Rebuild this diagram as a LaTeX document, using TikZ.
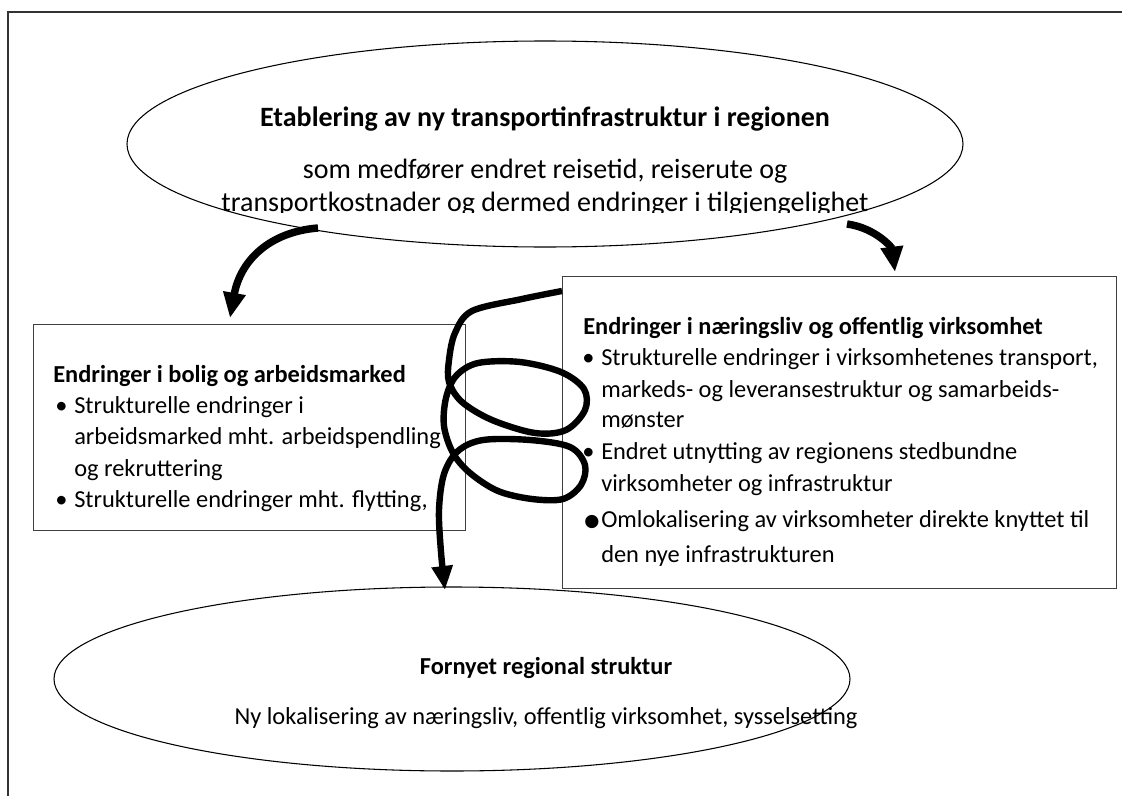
\documentclass[tikz,border=0pt]{standalone}
\usepackage{fontspec}
\setmainfont{Carlito}
\newfontfamily\dejavu{DejaVu Sans}
\usetikzlibrary{arrows.meta,shapes.geometric}
\begin{document}
\begin{tikzpicture}[x=0.75pt,y=-0.75pt,
  frame/.style={line width=1.6pt, draw=black!80},
  ell/.style={ellipse, draw, line width=0.8pt, inner sep=0pt},
  boxst/.style={rectangle, draw=black!75, line width=1pt, inner sep=0pt, anchor=north west},
  bigarrow/.style={line width=5.6pt, -{Triangle[length=19pt,width=16pt]}},
  spiral/.style={line width=4.8pt, line join=round, -{Triangle[length=18pt,width=15pt]}},
  btxt/.style={font=\fontsize{18.3}{22}\selectfont, inner sep=0pt, anchor=base west},
  etxt/.style={font=\fontsize{21}{24}\selectfont, inner sep=0pt, anchor=base},
  bul/.style={font=\fontsize{18.3}{22}\selectfont, inner sep=0pt, anchor=base west}
]
\useasboundingbox (0,0) rectangle (1122,796);
\draw[frame] (8,796) -- (8,12) -- (1122,12);

% top ellipse
\node[ell, minimum width=627pt, minimum height=154.5pt] (top) at (545,144) {};
\node[etxt] (t1) at (545,126) {\textbf{Etablering av ny transportinfrastruktur i regionen}};
\node[etxt] (t2) at (545,178) {som medfører endret reisetid, reiserute og};
\begin{scope}
\clip (100,185) rectangle (1000,212);
\node[etxt] (t3) at (545,211) {transportkostnader og dermed endringer i tilgjengelighet};
\end{scope}

% left box
\node[boxst, minimum width=324pt, minimum height=154.5pt] (lbox) at (33,324) {};
\node[btxt] (l0) at (53,382) {\textbf{Endringer i bolig og arbeidsmarked}};
\node[bul] (lb1) at (55,413) {•};
\node[btxt] (l1a) at (74,413) {Strukturelle endringer i};
\node[btxt] (l1b) at (74,444) {arbeidsmarked mht. arbeidspendling};
\node[btxt] (l1c) at (74,476) {og rekruttering};
\node[bul] (lb2) at (55,507) {•};
\node[btxt] (l2) at (74,507) {Strukturelle endringer mht. flytting,};

% right box
\node[boxst, minimum width=415.5pt, minimum height=234pt] (rbox) at (562,276) {};
\node[btxt] (r0) at (583,334) {\textbf{Endringer i næringsliv og offentlig virksomhet}};
\node[bul] (rb1) at (582,365) {•};
\node[btxt] (r1a) at (601,365) {Strukturelle endringer i virksomhetenes transport,};
\node[btxt] (r1b) at (601,397) {markeds- og leveransestruktur og samarbeids-};
\node[btxt] (r1c) at (601,427) {mønster};
\node[bul] (rb2) at (582,459) {•};
\node[btxt] (r2a) at (601,459) {Endret utnytting av regionens stedbundne};
\node[btxt] (r2b) at (601,491) {virksomheter og infrastruktur};
\node[bul] (rb3) at (584,526) {\dejavu\fontsize{13}{15}\selectfont ●};
\node[btxt] (r3a) at (601,527) {Omlokalisering av virksomheter direkte knyttet til};
\node[btxt] (r3b) at (601,562) {den nye infrastrukturen};

% bottom ellipse
\node[ell, minimum width=597pt, minimum height=138pt] (bot) at (452,679) {};
\node[btxt, anchor=base] (b1) at (546,674) {\textbf{Fornyet regional struktur}};
\node[btxt, anchor=base] (b2) at (546,724) {Ny lokalisering av næringsliv, offentlig virksomhet, sysselsetting};

% connectors
\coordinate (a1s) at (318,228);
\coordinate (a1e) at (230,318);
\coordinate (a2s) at (847,224);
\coordinate (a2e) at (895,272);
\coordinate (sp0) at (562,291);
\coordinate (sp1) at (445,590);
\draw[bigarrow] (a1s) .. controls (268,232) and (240,262) .. (a1e);
\draw[bigarrow] (a2s) .. controls (876,228) and (892,248) .. (a2e);
\draw[spiral] plot[smooth, tension=0.55] coordinates {
 (sp0) (522,299) (472,311) (455,333) (449,360) (449,382)
 (462,402) (492,420) (535,433) (566,430) (585,410) (584,389)
 (561,372) (520,362) (478,363) (456,376) (446,398) (444,426)
 (453,453) (470,473) (498,491) (532,499) (563,499) (581,485)
 (585,465) (570,447) (530,440) (483,440) (458,451) (444,474)
 (439,510) (441,552) (sp1)};
\end{tikzpicture}
\end{document}
